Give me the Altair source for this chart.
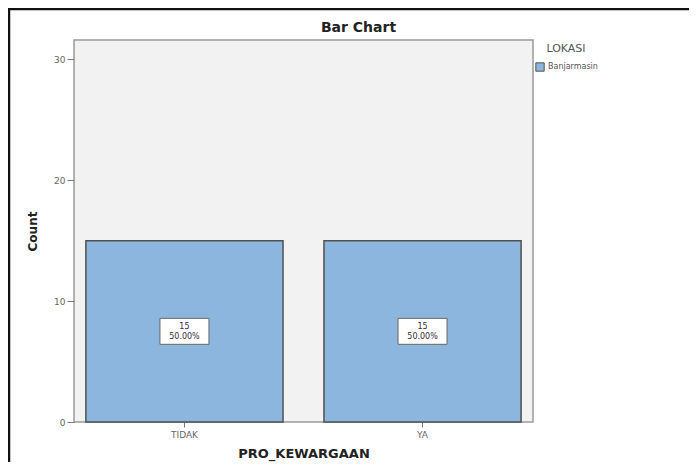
import altair as alt
import pandas as pd

categories = ["TIDAK", "YA"]
counts = [15, 15]
lokasi = ["Banjarmasin", "Banjarmasin"]
chart_title = "Bar Chart"

total = sum(counts)
df = pd.DataFrame({
    "PRO_KEWARGAAN": categories,
    "Count": counts,
    "LOKASI": lokasi,
})
df["mid"] = df["Count"] / 2
df["label"] = [f"{c}\n{c / total * 100:.2f}%" for c in counts]

W, H = 459, 382
PL, PT, PR, PB = 66, 32, 156, 40

xenc = alt.X(
    "PRO_KEWARGAAN:N",
    sort=categories,
    scale=alt.Scale(paddingInner=0.172, paddingOuter=0.05),
    axis=alt.Axis(
        title="PRO_KEWARGAAN", labelAngle=0, domain=False, tickSize=5,
        tickColor="#777", labelColor="#666", labelFont="DejaVu Sans",
        labelFontSize=9, labelPadding=3, titleFont="DejaVu Sans",
        titleFontSize=13, titleFontWeight="bold", titleColor="#222",
        titlePadding=8,
    ),
)

bars = alt.Chart(df).mark_bar(
    fill="#8cb6de", stroke="#505050", strokeWidth=1.5
).encode(
    x=xenc,
    y=alt.Y(
        "Count:Q",
        scale=alt.Scale(domain=[0, 31.6], nice=False),
        axis=alt.Axis(
            title="Count", values=[0, 10, 20, 30], grid=False, domain=False,
            tickSize=7, tickColor="#777", labelColor="#666",
            labelFont="DejaVu Sans", labelFontSize=9, labelPadding=2,
            titleFont="DejaVu Sans", titleFontSize=12, titleFontWeight="bold",
            titleColor="#222", titlePadding=14,
        ),
    ),
    color=alt.Color(
        "LOKASI:N",
        scale=alt.Scale(range=["#8cb6de"]),
        legend=alt.Legend(
            orient="none", legendX=461, legendY=3, symbolType="square",
            symbolSize=70, symbolStrokeColor="#505050", symbolStrokeWidth=1,
            titleFont="DejaVu Sans", titleFontSize=11, titleFontWeight="normal",
            titleColor="#555", titleAnchor="middle", titlePadding=8,
            labelFont="DejaVu Sans", labelFontSize=8, labelColor="#555",
            labelOffset=3,
        ),
    ),
)

box = alt.Chart(df).mark_point(
    shape="M-1,-0.53L1,-0.53L1,0.53L-1,0.53Z", filled=True, fill="white",
    stroke="#666", strokeWidth=1, opacity=1, size=49 * 49,
).encode(x=alt.X("PRO_KEWARGAAN:N", sort=categories), y=alt.Y("mid:Q"))

txt = alt.Chart(df).mark_text(
    lineBreak="\n", font="DejaVu Sans", fontSize=8, color="#3a2a40",
    lineHeight=10, baseline="middle", dy=-4,
).encode(x=alt.X("PRO_KEWARGAAN:N", sort=categories), y=alt.Y("mid:Q"), text="label:N")

single = alt.Data(values=[{"t": chart_title}])
title_mark = alt.Chart(single).mark_text(
    font="DejaVu Sans", fontSize=14, fontWeight="bold", color="#222",
    align="center", baseline="middle",
).encode(x=alt.value(W / 2 + 55), y=alt.value(-12), text="t:N")

top_rule = alt.Chart(single).mark_rule(color="#111", strokeWidth=2.5).encode(
    x=alt.value(-PL), x2=alt.value(W + PR), y=alt.value(-PT + 1)
)
left_rule = alt.Chart(single).mark_rule(color="#111", strokeWidth=2.5).encode(
    x=alt.value(-PL + 1), y=alt.value(-PT), y2=alt.value(H + PB)
)

chart = alt.layer(bars, box, txt, title_mark, top_rule, left_rule).properties(
    width=W, height=H,
    autosize=alt.AutoSizeParams(type="none"),
    padding={"left": PL, "top": PT, "right": PR, "bottom": PB},
    background="white",
).configure_view(
    fill="#f2f2f2", stroke="#9a9a9a", strokeWidth=1.5
)

chart.save("out.html", embed_options={"renderer": "svg", "actions": False})
